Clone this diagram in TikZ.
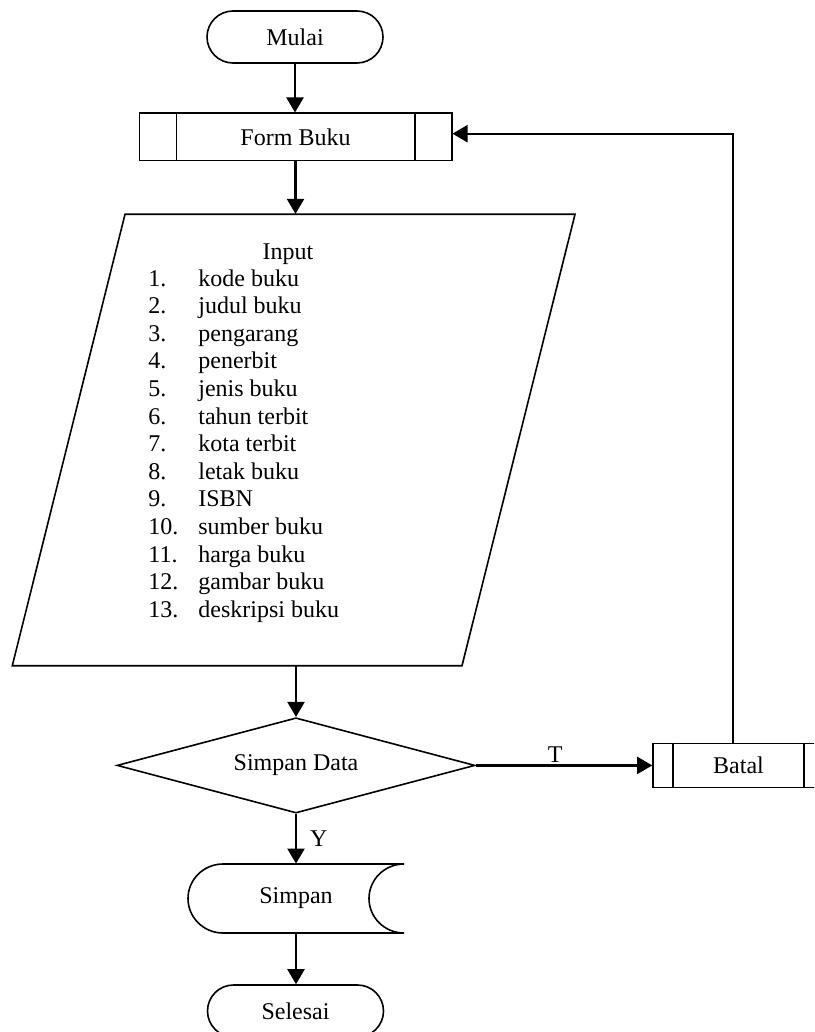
\documentclass[tikz,border=0pt]{standalone}
\usepackage{fontspec}
\setmainfont{Liberation Serif}
\usetikzlibrary{shapes.geometric,arrows.meta}
\begin{document}
\begin{tikzpicture}[x=0.5pt,y=-0.5pt,
  font=\fontsize{12}{13.8}\selectfont,
  box/.style={draw, line width=0.8pt, inner sep=0pt},
  term/.style={box, rectangle, rounded corners=13pt, minimum width=88pt, minimum height=26pt},
  proc/.style={box, rectangle},
  outline/.style={line width=0.8pt},
  conn/.style={line width=1.1pt, -{Triangle[length=7.5pt,width=8.5pt]}},
  plain/.style={draw=none, inner sep=0pt},
]
\useasboundingbox (0,0) rectangle (814,1032);
\clip (0,0) rectangle (814,1032);

% Mulai
\node[term] (mulai) at (295,37) {Mulai};

% Form Buku
\node[proc, minimum width=156.2pt, minimum height=23.7pt] (form) at (295.5,137) {Form Buku};
\draw[outline] ([xshift=19pt]form.north west) -- ([xshift=19pt]form.south west)
  ([xshift=-18.85pt]form.north east) -- ([xshift=-18.85pt]form.south east);

% Input parallelogram
\node[plain, minimum width=281.35pt, minimum height=225.7pt] (input) at (293.65,440) {};
\draw[outline] (125,214.3) -- (575,214.3) -- (462,665.7) -- (12.3,665.7) -- cycle;
\node[plain, anchor=base] (inputtitle) at (288,259.7) {Input};
\node[plain, anchor=base west] (inputlist) at (148,286) {%
  \renewcommand{\arraystretch}{1}%
  \begin{tabular}[t]{@{}p{25pt}@{}l@{}}
  1. & kode buku\\
  2. & judul buku\\
  3. & pengarang\\
  4. & penerbit\\
  5. & jenis buku\\
  6. & tahun terbit\\
  7. & kota terbit\\
  8. & letak buku\\
  9. & ISBN\\
  10. & sumber buku\\
  11. & harga buku\\
  12. & gambar buku\\
  13. & deskripsi buku
  \end{tabular}};

% Decision
\node[box, diamond, aspect=3.76, minimum width=179pt, minimum height=47.65pt] (dia) at (296,765.4) {Simpan Data};

% Batal
\node[proc, minimum width=85.5pt, minimum height=22pt] (batal) at (738.5,765.4) {Batal};
\draw[outline] ([xshift=10.5pt]batal.north west) -- ([xshift=10.5pt]batal.south west)
  ([xshift=-10.5pt]batal.north east) -- ([xshift=-10.5pt]batal.south east);

% Simpan (stored data)
\node[plain, minimum width=108pt, minimum height=34.5pt] (simpan) at (296,898.5) {Simpan};
\draw[outline] (223,864) -- (404,864)
  .. controls (384.7,864) and (369,879.45) .. (369,898.5)
  .. controls (369,917.55) and (384.7,933) .. (404,933)
  -- (223,933)
  .. controls (203.7,933) and (188,917.55) .. (188,898.5)
  .. controls (188,879.45) and (203.7,864) .. (223,864) -- cycle;

% Selesai
\node[term] (selesai) at (295.5,1011) {Selesai};

% Connectors
\draw[conn] (mulai.south) -- (mulai.south |- form.north);
\draw[conn] (form.south) -- (form.south |- input.north);
\draw[conn] (dia.north |- input.south) -- (dia.north);
\draw[conn] (dia.east) -- node[pos=0.45, above=1pt, inner sep=0pt] (tlabel) {T} (dia.east -| batal.west);
\draw[conn] ([xshift=-2.75pt]batal.north) |- ([yshift=1.65pt]form.east);
\draw[conn] (dia.south) -- node[right=6.5pt, inner sep=0pt] (ylabel) {Y} (dia.south |- simpan.north);
\draw[conn] (simpan.south) -- (simpan.south |- selesai.north);
\end{tikzpicture}
\end{document}
